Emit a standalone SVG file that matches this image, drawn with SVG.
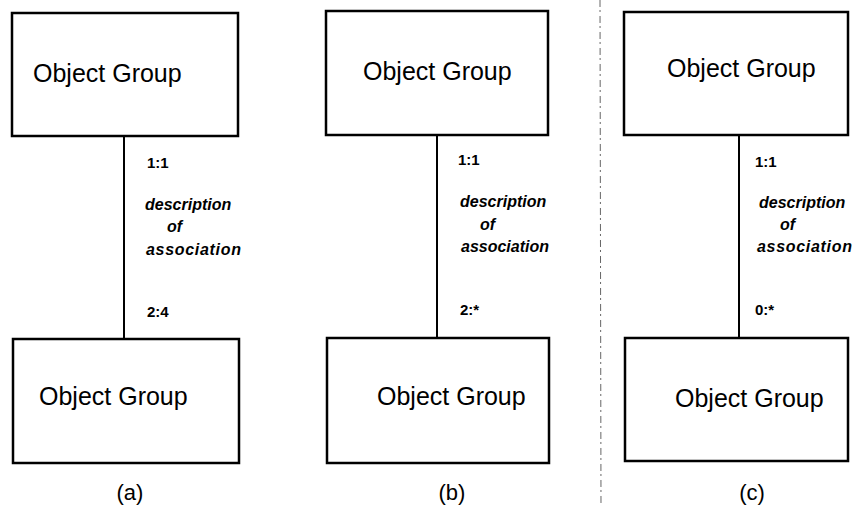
<svg xmlns="http://www.w3.org/2000/svg" width="853" height="506" viewBox="0 0 853 506">
<style>
.box{fill:#fff;stroke:#000;stroke-width:2.5}
.name{font-family:"Liberation Sans",Arial,sans-serif;font-size:25px;fill:#000}
.conn{stroke:#000;stroke-width:2;fill:none}
.num{font-family:"Liberation Sans",Arial,sans-serif;font-size:15px;font-weight:bold;fill:#000}
.desc{font-family:"Liberation Sans",Arial,sans-serif;font-size:16px;font-weight:bold;font-style:italic;fill:#000}
.cap{font-family:"Liberation Sans",Arial,sans-serif;font-size:22px;fill:#000}
.fold{stroke:#666;stroke-width:1;stroke-dasharray:7 3 2 4;fill:none}
</style>
<rect width="853" height="506" fill="#fff"/>
<line class="fold" x1="600" y1="0" x2="601" y2="506"/>
<g id="connectors">
<line class="conn" x1="124" y1="136" x2="124" y2="339"/>
<line class="conn" x1="437" y1="135" x2="437" y2="338"/>
<line class="conn" x1="739" y1="135" x2="739" y2="338"/>
</g>
<g id="labels-a">
<text class="num" x="147" y="168">1:1</text>
<text class="desc" x="145" y="210">description</text>
<text class="desc" x="167" y="232">of</text>
<text class="desc" x="146" y="255" textLength="95">association</text>
<text class="num" x="147" y="317">2:4</text>
<text class="cap" x="130" y="500" text-anchor="middle">(a)</text>
</g>
<g id="labels-b">
<text class="num" x="458" y="165">1:1</text>
<text class="desc" x="460" y="207">description</text>
<text class="desc" x="480" y="230">of</text>
<text class="desc" x="461" y="252">association</text>
<text class="num" x="460" y="315">2:*</text>
<text class="cap" x="452" y="500" text-anchor="middle">(b)</text>
</g>
<g id="labels-c">
<text class="num" x="755" y="167">1:1</text>
<text class="desc" x="759" y="208">description</text>
<text class="desc" x="780" y="230">of</text>
<text class="desc" x="757" y="252" textLength="95">association</text>
<text class="num" x="755" y="315">0:*</text>
<text class="cap" x="752" y="500" text-anchor="middle">(c)</text>
</g>
<g id="node-a-top">
<rect class="box" x="12" y="13" width="226" height="123"/>
<text class="name" x="33" y="82">Object Group</text>
</g>
<g id="node-a-bottom">
<rect class="box" x="13" y="339" width="226" height="124"/>
<text class="name" x="39" y="405">Object Group</text>
</g>
<g id="node-b-top">
<rect class="box" x="326" y="11" width="222" height="124"/>
<text class="name" x="363" y="80">Object Group</text>
</g>
<g id="node-b-bottom">
<rect class="box" x="327" y="338" width="222" height="125"/>
<text class="name" x="377" y="405">Object Group</text>
</g>
<g id="node-c-top">
<rect class="box" x="624" y="12" width="224" height="123"/>
<text class="name" x="667" y="77">Object Group</text>
</g>
<g id="node-c-bottom">
<rect class="box" x="625" y="338" width="223" height="123"/>
<text class="name" x="675" y="407">Object Group</text>
</g>
</svg>
